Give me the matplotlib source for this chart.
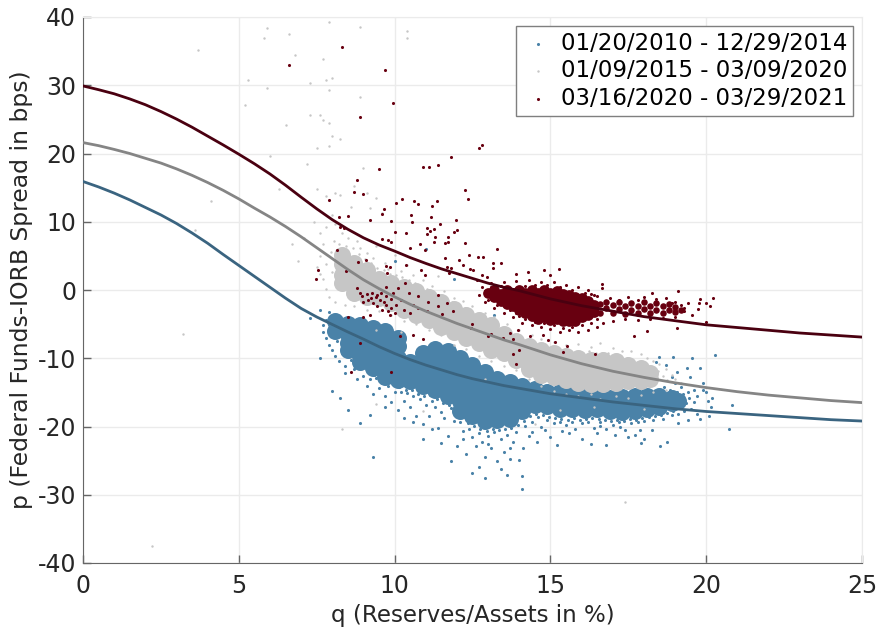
import numpy as np
import matplotlib
matplotlib.use('Agg')
import matplotlib.pyplot as plt

plt.rcParams['axes.unicode_minus'] = False

# curves, half steps where they bend and whole steps after q = 14
curve_q = [0, 0.5, 1, 1.5, 2, 2.5, 3, 3.5, 4, 4.5, 5, 5.5, 6, 6.5, 7, 7.5, 8, 8.5, 9, 9.5, 10, 10.5, 11, 11.5, 12,
           12.5, 13, 13.5, 14, 15, 16, 17, 18, 19, 20, 21, 22, 23, 24, 25]
curve_blue = [15.9, 15.1, 14.2, 13.2, 12.1, 11.0, 9.75, 8.35, 6.85, 5.2, 3.6, 2.0, 0.4, -1.2, -2.7, -3.95, -5.05, -6.15, -7.2, -8.3,
              -9.3, -10.2, -11.0, -11.7, -12.4, -13.0, -13.5, -14.0, -14.4, -15.2, -15.8, -16.4, -16.9, -17.4, -17.8, -18.1,
              -18.4, -18.7, -19.0, -19.2]
curve_gray = [21.6, 21.15, 20.6, 20.0, 19.3, 18.6, 17.75, 16.8, 15.75, 14.6, 13.35, 12.0, 10.7, 9.3, 7.8, 6.2, 4.6, 3.0, 1.5, 0.2,
              -1.0, -2.1, -3.1, -4.0, -4.9, -5.7, -6.5, -7.3, -8.0, -9.5, -10.8, -11.9, -12.8, -13.6, -14.3, -14.9,
              -15.4, -15.8, -16.2, -16.5]
curve_red = [29.9, 29.35, 28.75, 28.0, 27.15, 26.15, 25.05, 23.85, 22.55, 21.25, 19.9, 18.5, 17.0, 15.35, 13.6, 11.9, 10.3, 8.9, 7.65, 6.6,
             5.7, 4.75, 3.9, 3.1, 2.4, 1.7, 1.0, 0.4, -0.1, -1.3, -2.3, -3.1, -3.9, -4.5, -5.1, -5.5, -5.9, -6.3, -6.6, -6.9]

# the dense parts of the clouds, read as (q, p) and drawn with a fat marker
blue_core = [(8.1, -4.6), (8.1, -6.0), (8.5, -5.0), (8.5, -6.5), (8.5, -7.8), (8.5, -8.8),
             (8.9, -5.2), (8.9, -6.8), (8.9, -8.4), (8.9, -9.6), (8.9, -10.6),
             (9.3, -5.5), (9.3, -7.0), (9.3, -8.6), (9.3, -10.0), (9.3, -11.4),
             (9.7, -6.0), (9.7, -7.6), (9.7, -9.2), (9.7, -10.7), (9.7, -12.0), (9.7, -12.8),
             (10.1, -7.0), (10.1, -8.2), (10.1, -10.0), (10.1, -11.5), (10.1, -13.2),
             (10.5, -10.6), (10.5, -11.8), (10.5, -13.3),
             (10.9, -9.2), (10.9, -10.4), (10.9, -12.0), (10.9, -13.3), (10.9, -14.0),
             (11.3, -8.6), (11.3, -10.2), (11.3, -11.8), (11.3, -13.4), (11.3, -14.6),
             (11.7, -9.0), (11.7, -10.6), (11.7, -12.2), (11.7, -13.8), (11.7, -15.6),
             (12.1, -10.0), (12.1, -11.6), (12.1, -13.2), (12.1, -14.8), (12.1, -16.2), (12.1, -17.8),
             (12.5, -11.0), (12.5, -12.6), (12.5, -14.2), (12.5, -15.8), (12.5, -17.2), (12.5, -18.4),
             (12.9, -12.0), (12.9, -13.6), (12.9, -15.2), (12.9, -16.8), (12.9, -18.2), (12.9, -19.2),
             (13.3, -13.0), (13.3, -14.6), (13.3, -16.2), (13.3, -17.8), (13.3, -19.0),
             (13.7, -13.5), (13.7, -15.0), (13.7, -16.6), (13.7, -18.0), (13.7, -18.9),
             (14.1, -14.0), (14.1, -15.4), (14.1, -16.8), (14.1, -17.8),
             (14.5, -14.5), (14.5, -15.8), (14.5, -16.8),
             (14.9, -15.0), (14.9, -16.2), (14.9, -17.0),
             (15.3, -15.0), (15.3, -16.2), (15.3, -17.4),
             (15.7, -15.3), (15.7, -16.5), (15.7, -17.4),
             (16.1, -15.5), (16.1, -16.7), (16.1, -17.6),
             (16.5, -15.5), (16.5, -16.7), (16.5, -17.5),
             (16.9, -15.8), (16.9, -16.9), (16.9, -17.8),
             (17.3, -15.7), (17.3, -16.9), (17.3, -17.9),
             (17.7, -15.6), (17.7, -16.8), (17.7, -17.7),
             (18.1, -15.5), (18.1, -16.7), (18.1, -17.5),
             (18.5, -15.5), (18.5, -16.5), (18.5, -17.2),
             (18.9, -15.8), (18.9, -16.6), (19.1, -16.2)]

gray_core = [(8.3, 5.2), (8.3, 3.8), (8.3, 2.2), (8.3, 1.0),
             (8.7, 4.0), (8.7, 2.4), (8.7, 0.8), (8.7, -0.4),
             (9.1, 3.0), (9.1, 1.5), (9.1, 0.0), (9.1, -1.0),
             (9.5, 1.6), (9.5, 0.2), (9.5, -1.2),
             (9.9, 1.0), (9.9, -0.4), (9.9, -1.9),
             (10.3, 0.5), (10.3, -0.8), (10.3, -2.2), (10.3, -3.0),
             (10.7, -0.2), (10.7, -1.5), (10.7, -3.0), (10.7, -3.6),
             (11.1, -1.0), (11.1, -2.3), (11.1, -3.8), (11.1, -4.4),
             (11.5, -1.8), (11.5, -3.1), (11.5, -4.6), (11.5, -5.4),
             (11.9, -2.8), (11.9, -4.1), (11.9, -5.6), (11.9, -6.2),
             (12.3, -3.6), (12.3, -4.9), (12.3, -6.4), (12.3, -7.0),
             (12.7, -4.4), (12.7, -5.6), (12.7, -7.0), (12.7, -7.8),
             (13.1, -5.2), (13.1, -6.6), (13.1, -8.0), (13.1, -8.8),
             (13.5, -6.4), (13.5, -7.8), (13.5, -9.2),
             (13.9, -7.4), (13.9, -8.8), (13.9, -10.2),
             (14.3, -8.2), (14.3, -9.6), (14.3, -11.0), (14.3, -11.6),
             (14.7, -8.8), (14.7, -10.2), (14.7, -11.6), (14.7, -12.4),
             (15.1, -9.2), (15.1, -10.6), (15.1, -12.0), (15.1, -12.8),
             (15.5, -9.7), (15.5, -11.0), (15.5, -12.4), (15.5, -13.2),
             (15.9, -10.0), (15.9, -11.4), (15.9, -12.8), (15.9, -13.6),
             (16.3, -10.2), (16.3, -11.6), (16.3, -13.0), (16.3, -13.7),
             (16.7, -10.2), (16.7, -11.6), (16.7, -13.0), (16.7, -13.7),
             (17.1, -10.4), (17.1, -11.8), (17.1, -13.2), (17.1, -13.6),
             (17.5, -11.0), (17.5, -12.2), (17.5, -13.4),
             (17.9, -11.4), (17.9, -12.6), (17.9, -13.4),
             (18.2, -12.2), (18.2, -13.1)]

red_core = [(13.0, -0.4), (13.2, 0.0), (13.2, -1.0), (13.4, -0.6), (13.4, -1.6),
            (13.6, 0.0), (13.6, -1.0), (13.6, -2.0), (13.8, -0.5), (13.8, -1.5), (13.8, -2.4),
            (14.0, 0.0), (14.0, -1.0), (14.0, -2.0), (14.0, -3.0),
            (14.2, -0.5), (14.2, -1.5), (14.2, -2.5), (14.2, -3.3),
            (14.4, 0.0), (14.4, -1.0), (14.4, -2.0), (14.4, -3.0), (14.4, -3.8),
            (14.6, -0.4), (14.6, -1.4), (14.6, -2.4), (14.6, -3.4), (14.6, -4.2),
            (14.8, 0.0), (14.8, -1.0), (14.8, -2.0), (14.8, -3.0), (14.8, -4.0),
            (15.0, -0.4), (15.0, -1.4), (15.0, -2.4), (15.0, -3.4), (15.0, -4.4),
            (15.2, -0.2), (15.2, -1.2), (15.2, -2.2), (15.2, -3.2), (15.2, -4.2),
            (15.4, -0.6), (15.4, -1.6), (15.4, -2.6), (15.4, -3.6), (15.4, -4.6),
            (15.6, -0.8), (15.6, -1.8), (15.6, -2.8), (15.6, -3.8), (15.6, -4.6),
            (15.8, -1.0), (15.8, -2.0), (15.8, -3.0), (15.8, -4.0), (15.8, -4.6),
            (16.0, -1.2), (16.0, -2.2), (16.0, -3.2), (16.0, -4.0),
            (16.2, -1.6), (16.2, -2.6), (16.2, -3.6), (16.4, -2.2), (16.4, -3.2)]

# the thick part of the red tail to the right of the core
red_tail = [(16.6, -2.0), (16.6, -3.4), (16.8, -2.7), (16.8, -1.8), (17.0, -3.3), (17.0, -2.2), (17.2, -2.8), (17.2, -1.7),
            (17.4, -3.5), (17.4, -2.4), (17.6, -2.9), (17.6, -1.9), (17.8, -3.4), (17.8, -2.3), (18.0, -2.8), (18.0, -1.8),
            (18.2, -3.3), (18.2, -2.3), (18.4, -2.9), (18.4, -1.9), (18.6, -3.3), (18.6, -2.4), (18.8, -2.9), (18.8, -2.0),
            (19.0, -3.2), (19.0, -2.5), (19.2, -2.9)]

# single points on the rim of the clouds and the outliers
blue_points = [(7.3, -4.1), (7.6, -10.0), (8.0, -14.8), (8.25, -15.8), (8.5, -17.6), (9.2, -18.3),
               (8.9, -19.5), (9.3, -24.5), (10.9, -21.8), (11.8, -25.0), (12.5, -26.8), (12.9, -27.5),
               (14.1, -29.2), (14.1, -27.3), (13.6, -27.1), (12.7, -25.9), (13.4, -26.2),
               (19.55, -9.9), (20.28, -9.5), (18.94, -9.75), (18.5, -9.75), (19.8, -11.45), (19.37, -11.45),
               (19.48, -12.7), (19.05, -11.95), (19.9, -13.65), (20.2, -15.85), (20.06, -16.3), (20.17, -17.2),
               (20.83, -16.8), (20.73, -20.3), (18.73, -22.3), (18.51, -22.9), (17.71, -21.2), (17.07, -21.2),
               (16.8, -22.7), (16.48, -20.9), (16.0, -21.8), (15.36, -20.7), (15.2, -22.7), (14.56, -22.3),
               (14.13, -23.2), (13.8, -22.2), (14.82, -20.5), (17.87, -20.5), (18.25, -20.5), (17.23, -20.0),
               (7.6, -3.0), (7.7, -5.2), (7.7, -6.1), (7.8, -4.4), (7.8, -7.0), (7.9, -8.1), (7.9, -3.2),
               (8.0, -8.8), (8.1, -9.6), (8.2, -10.4), (8.3, -9.2), (8.4, -11.1), (8.4, -12.2), (8.6, -10.3),
               (8.7, -11.6), (8.8, -13.0), (8.9, -11.4), (9.0, -12.6), (9.1, -14.1), (9.2, -13.0), (9.3, -15.2),
               (9.4, -12.9), (9.5, -14.4), (9.6, -13.6), (9.7, -15.6), (9.8, -14.0), (9.9, -16.4), (10.0, -14.9),
               (10.1, -17.6), (10.2, -15.0), (10.3, -16.2), (10.4, -15.1), (10.5, -17.2), (10.6, -15.6),
               (10.7, -18.5), (10.8, -16.0), (10.9, -19.6), (11.0, -16.8), (11.1, -18.4), (11.2, -16.2),
               (11.3, -17.1), (11.4, -20.2), (11.5, -17.9), (11.6, -18.7), (11.7, -21.4), (11.8, -17.3),
               (11.9, -19.2), (12.0, -22.8), (12.1, -19.3), (12.2, -20.6), (12.3, -24.0), (12.4, -20.4),
               (12.5, -21.5), (12.6, -22.8), (12.7, -20.9), (12.8, -22.3), (12.9, -24.4), (13.0, -21.4),
               (13.1, -23.2), (13.2, -20.8), (13.3, -25.0), (13.4, -21.8), (13.5, -23.7), (13.6, -21.2),
               (13.7, -24.7), (13.9, -20.8), (14.0, -24.9), (14.2, -19.9), (14.3, -21.4), (14.4, -19.3),
               (14.6, -18.6), (14.7, -20.0), (14.9, -19.0), (15.0, -21.5), (15.1, -19.5), (15.3, -19.4),
               (15.5, -19.8), (15.7, -19.3), (15.8, -20.4), (16.0, -19.5), (16.2, -19.4), (16.4, -20.2),
               (16.6, -19.3), (16.8, -20.3), (17.0, -19.8), (17.2, -19.4), (17.4, -20.5), (17.6, -19.5),
               (17.8, -19.4), (18.0, -19.2), (18.3, -19.0), (18.6, -18.9), (18.9, -18.3), (19.1, -18.1),
               (19.3, -17.8), (19.5, -17.4), (19.6, -16.4), (19.7, -15.6), (19.4, -15.0), (19.6, -14.6),
               (19.2, -14.2), (19.0, -13.6), (18.9, -12.8), (18.7, -11.0), (18.4, -10.6), (19.7, -18.2),
               (15.3, -9.9), (10.0, 4.2), (11.0, 6.0), (11.9, 1.6), (10.1, 1.2), (12.0, -2.4), (13.2, -3.6),
               (8.0, -5.6), (8.15, -7.4), (8.35, -8.4), (8.55, -9.4), (8.75, -10.6), (8.95, -11.0), (9.15, -12.0),
               (9.35, -12.4), (9.55, -12.8), (9.75, -13.3), (9.95, -13.8), (10.15, -14.2), (10.35, -14.6), (10.55, -14.7),
               (10.75, -15.2), (10.95, -15.5), (11.15, -15.4), (11.35, -16.0), (11.55, -16.6), (11.75, -16.8), (11.95, -18.0),
               (12.15, -18.6), (12.35, -19.5), (12.55, -19.9), (12.75, -20.3), (12.95, -20.6), (13.15, -20.4), (13.35, -20.5),
               (13.55, -20.4), (13.75, -20.2), (13.95, -19.8), (14.15, -19.2), (14.35, -18.5), (14.55, -18.2), (14.75, -18.3),
               (14.95, -18.6), (15.15, -18.8), (15.35, -18.9), (15.55, -19.0), (15.75, -18.8), (15.95, -19.0), (16.15, -18.9),
               (16.35, -18.8), (16.55, -18.9), (16.75, -19.0), (16.95, -19.2), (17.15, -19.1), (17.35, -19.2), (17.55, -18.9),
               (17.75, -19.0), (17.95, -18.8), (18.15, -18.6), (18.35, -18.5), (18.55, -18.3), (18.75, -18.0), (18.95, -17.8),
               (19.15, -17.3), (19.35, -16.6), (19.45, -15.8), (19.25, -15.3), (19.05, -14.9), (18.85, -14.6), (18.65, -14.2),
               (10.3, -18.8), (10.6, -19.4), (11.2, -20.4), (11.5, -22.4), (12.2, -21.9), (13.0, -22.6), (13.7, -23.2),
               (14.4, -20.8), (15.6, -21.0), (16.3, -22.6), (16.6, -19.9), (17.5, -21.6), (18.0, -21.8), (19.1, -19.5),
               (19.4, -19.0), (19.8, -18.9), (20.0, -15.0), (19.9, -14.6), (20.1, -18.4), (17.9, -22.4), (9.7, -17.2)]

gray_points = [(3.7, 35.2), (5.9, 38.4), (5.8, 36.9), (6.6, 37.5), (7.9, 39.3), (8.9, 38.5), (6.8, 34.4),
               (7.7, 33.8), (5.3, 30.8), (7.3, 30.3), (7.8, 30.8), (8.0, 31.0), (5.9, 29.6), (7.9, 29.3),
               (8.9, 28.3), (5.2, 27.1), (7.3, 25.6), (7.6, 25.6), (7.7, 24.9), (7.9, 24.5), (6.5, 24.2),
               (8.0, 22.6), (8.25, 22.1), (7.9, 21.1), (7.5, 20.8), (6.0, 19.6), (7.2, 18.5), (9.0, 17.9),
               (8.7, 15.2), (6.3, 14.8), (7.5, 14.8), (8.1, 14.2), (8.25, 13.9), (7.8, 13.8), (9.1, 14.2),
               (9.4, 13.5), (4.1, 13.0), (9.2, 12.0), (10.4, 38.0), (10.4, 36.9), (2.2, -37.5), (3.2, -6.5),
               (8.3, -20.4), (9.4, -16.7), (10.9, -17.7), (17.4, -31.0), (3.6, 8.8), (6.7, 6.7), (6.9, 4.3),
               (9.6, 11.3), (8.6, 12.2), (8.0, 11.0), (7.4, 10.0), (7.6, 8.4), (7.1, 7.6), (7.7, 6.8),
               (7.8, 9.2), (8.1, 9.6), (8.3, 8.3), (8.5, 7.6), (8.8, 7.2), (8.9, 6.1), (9.1, 5.4), (9.3, 4.7),
               (9.4, 6.5), (9.7, 4.0), (9.8, 3.1), (10.0, 5.2), (10.2, 2.8), (10.4, 3.6), (10.6, 2.2),
               (10.9, 1.4), (11.2, 0.6), (11.4, 2.0), (11.6, -0.2), (11.9, -1.1), (12.2, -1.6), (12.5, -2.4),
               (12.9, -3.3), (13.2, -4.0), (13.6, -5.0), (14.0, -5.8), (14.4, -6.6), (14.7, -7.2), (15.1, -7.6),
               (15.5, -8.0), (15.9, -7.9), (16.3, -8.3), (16.6, -7.8), (17.0, -8.5), (17.3, -8.9), (17.6, -9.0),
               (17.9, -9.4), (18.1, -9.9), (18.3, -10.4), (18.5, -10.8), (18.7, -11.6), (18.9, -12.4), (19.0, -13.0),
               (19.2, -13.6), (18.7, -14.6), (18.3, -15.0), (17.9, -15.4), (17.5, -15.8), (17.1, -15.6), (16.6, -16.0),
               (7.5, 3.3), (7.6, 5.0), (7.7, 1.6), (7.8, 0.2), (7.9, -1.0), (8.0, 2.6), (8.1, -1.8), (8.4, -2.2),
               (8.7, -2.3), (9.1, -2.9), (9.5, -3.1), (9.9, -3.6), (10.3, -4.6), (10.7, -5.0), (11.1, -5.8),
               (11.5, -6.6), (11.9, -8.0), (12.3, -8.7), (12.7, -9.6), (13.1, -10.4), (13.5, -11.1), (13.9, -11.7),
               (14.3, -13.1), (14.7, -14.0), (15.1, -14.8), (15.5, -15.3), (15.9, -15.6), (16.3, -15.2),
               (10.2, -6.2), (9.4, -5.9), (12.9, -13.0), (15.3, -17.6), (16.4, -17.2), (18.0, -17.4), (14.5, -19.7),
               (7.6, 2.4), (7.8, 3.8), (7.95, 5.6), (8.05, 7.2), (8.2, 6.8), (8.45, 6.5), (8.65, 6.2), (8.85, 5.3),
               (9.05, 4.6), (9.25, 3.9), (9.45, 3.2), (9.65, 2.9), (9.85, 2.4), (10.05, 2.2), (10.25, 1.9), (10.45, 1.4),
               (10.65, 1.0), (10.85, 0.4), (11.05, 0.1), (11.25, -0.4), (11.45, -0.8), (11.65, -1.3), (11.85, -1.8),
               (12.05, -2.3), (12.25, -2.7), (12.45, -3.1), (12.65, -3.6), (12.85, -4.2), (13.05, -4.6), (13.25, -5.0),
               (13.45, -5.6), (13.65, -6.0), (13.85, -6.6), (14.05, -7.0), (14.25, -7.4), (14.45, -7.9), (14.65, -8.2),
               (14.85, -8.5), (15.05, -8.3), (15.25, -8.8), (15.45, -8.9), (15.65, -9.0), (15.85, -9.1), (16.05, -9.2),
               (16.25, -9.0), (16.45, -9.2), (16.65, -9.3), (16.85, -9.3), (17.05, -9.5), (17.25, -9.7), (17.45, -10.0),
               (17.65, -10.3), (17.85, -10.6), (18.05, -11.0), (18.25, -11.4), (18.45, -11.9), (18.6, -12.6), (18.75, -13.2)]

red_points = [(8.3, 35.6), (6.6, 33.0), (8.9, 25.3), (9.5, 17.7), (8.8, 16.1), (8.7, 14.3), (9.0, 14.1), (7.9, 13.2),
              (9.7, 32.2), (9.95, 27.4), (12.8, 21.2), (12.7, 20.8), (11.8, 19.5), (10.9, 18.0), (11.1, 18.0), (11.4, 18.3),
              (10.25, 13.4), (10.04, 12.8), (10.63, 13.1), (10.75, 12.6), (11.19, 12.3), (11.37, 13.0), (12.26, 14.6),
              (12.37, 13.3), (9.67, 11.8), (9.6, 11.2), (10.52, 10.95), (11.18, 10.75), (8.22, 10.75), (8.5, 10.85),
              (9.21, 10.2), (9.88, 10.1), (10.56, 9.9), (11.97, 10.3), (11.46, 9.6), (8.26, 9.2), (8.37, 9.1),
              (10.0, 8.5), (10.37, 8.4), (11.04, 9.1), (11.13, 8.7), (11.27, 8.95), (11.05, 8.2), (11.29, 7.8),
              (11.26, 7.1), (11.9, 8.5), (11.99, 8.8), (11.72, 7.7), (11.61, 6.85), (11.7, 7.1), (12.27, 6.85),
              (13.28, 6.0), (9.6, 7.4), (9.8, 7.3), (9.87, 7.1), (10.83, 6.75), (10.49, 6.1), (10.98, 5.9),
              (12.39, 5.2), (12.67, 4.9), (12.84, 4.9), (11.61, 4.75), (8.16, 5.9), (9.08, 4.4), (8.84, 4.05),
              (8.43, 2.8), (7.53, 3.0), (7.48, 1.6), (9.72, 3.5), (9.85, 3.3), (9.77, 2.5), (10.38, 3.7),
              (10.85, 2.95), (10.99, 2.2), (11.67, 3.3), (11.81, 3.2), (11.75, 2.5), (12.06, 4.4), (12.2, 3.7),
              (12.42, 3.05), (12.52, 3.0), (13.16, 3.9), (13.43, 3.9), (13.16, 3.2), (12.63, 1.5), (12.79, 2.2),
              (12.95, 1.9), (8.89, -0.5), (8.78, 0.3), (9.28, -0.5), (9.42, -0.7), (8.94, -0.95), (9.53, -1.45),
              (9.74, -0.95), (9.9, -1.3), (10.12, 0.3), (10.33, 1.0), (9.72, 0.4), (9.0, -1.7), (9.74, -2.2),
              (9.9, -2.7), (9.23, -1.2), (9.4, -1.0), (9.15, -1.45), (10.06, -2.2), (10.76, -0.95), (10.6, -2.2),
              (11.08, -1.7), (11.4, -2.3), (11.4, -0.7), (11.67, -1.9), (11.88, -3.15), (11.53, -3.5), (11.03, -3.15),
              (10.76, -2.7), (8.51, -4.0), (9.0, -4.0), (9.21, -3.6), (9.85, -3.6), (10.17, -6.8), (10.6, -6.55),
              (10.92, -7.2), (12.47, -5.0), (12.44, -5.5), (13.0, -6.8), (13.1, -6.4), (13.7, -6.3), (13.97, -5.8),
              (13.88, 2.35), (14.27, 2.7), (14.79, 2.9), (14.99, 2.25), (15.26, 3.1), (16.64, 0.9), (16.64, 0.25),
              (19.1, -0.2), (18.27, -0.5), (20.23, -1.1), (19.8, -1.3), (19.78, -1.85), (20.0, -1.85), (20.12, -2.4),
              (19.74, -2.8), (19.42, -1.9), (19.53, -3.65), (20.0, -4.7), (19.07, -5.6), (18.09, -6.0), (17.69, -6.8),
              (16.43, -9.4), (15.41, -9.15), (15.52, -8.2), (13.79, -9.4), (14.0, -8.8), (13.88, -10.8), (13.47, -7.1),
              (14.34, -6.8), (14.77, -6.6), (14.93, -7.3), (15.14, -7.55), (13.81, -7.2),
              (16.5, -0.9), (16.9, -1.2), (17.2, -1.5), (17.5, -1.0), (17.8, -1.4), (18.0, -1.0), (18.4, -1.3), (18.7, -1.1),
              (19.0, -1.7), (19.2, -2.2), (19.3, -3.1), (19.0, -3.9), (18.6, -4.1), (18.2, -4.3), (17.8, -4.4), (17.4, -4.2),
              (17.0, -4.6), (16.7, -4.9), (16.5, -5.4), (16.2, -5.8), (15.9, -6.1), (15.6, -5.9), (15.3, -6.2), (15.0, -5.7),
              (14.7, -5.4), (14.4, -5.2), (14.1, -4.8), (13.8, -3.9), (13.5, -3.4), (13.2, -2.6), (12.9, -1.8), (12.7, -0.8),
              (12.8, 0.4), (13.1, 1.0), (13.5, 1.2), (13.9, 1.3), (14.3, 1.4), (14.7, 1.2), (15.1, 1.1), (15.5, 0.8), (15.9, 0.4),
              (16.2, 0.0), (16.4, -0.8), (19.3, -2.6), (18.9, -1.9), (9.9, -12.0), (8.9, -7.7), (8.6, -12.0),
              (13.0, -1.4), (12.9, -0.2), (13.1, 0.5), (13.3, -2.2), (13.4, 0.6), (13.7, -3.0), (14.0, -3.8), (14.2, 0.6),
              (14.5, 0.8), (14.9, 0.7), (15.3, 0.5), (15.7, 0.0), (16.1, -0.4), (16.3, -0.6), (16.5, -4.2), (16.3, -4.9),
              (16.0, -5.2), (15.7, -5.4), (15.4, -5.5), (15.1, -5.2), (14.8, -4.9), (14.5, -4.7), (14.2, -4.2), (13.9, -3.4),
              (9.1, -0.6), (9.3, -1.9), (9.45, -2.4), (9.55, -0.4), (9.6, -3.0), (9.65, -1.7), (9.8, -3.1), (9.95, -0.5),
              (10.0, -3.3), (10.2, -1.5), (10.3, -2.9), (10.45, -0.4), (10.5, -3.4)]

blue_arr = np.array(blue_points)
gray_arr = np.array(gray_points)
red_arr = np.array(red_points)
blue_fat = np.array(blue_core)
gray_fat = np.array(gray_core)
red_fat = np.array(red_core)
red_mid = np.array(red_tail)

fig = plt.figure(figsize=(8.78, 6.3), dpi=100)
ax = fig.add_axes([83 / 878, 1 - 563 / 630, 779 / 878, 546 / 630])

c_blue = '#4a82a8'
c_gray = '#c6c6c6'
c_red = '#680010'

ax.scatter(blue_fat[:, 0], blue_fat[:, 1], s=150, color=c_blue, linewidths=0, zorder=2)
ax.scatter(blue_arr[:, 0], blue_arr[:, 1], s=5, color=c_blue, linewidths=0, zorder=2,
           label='01/20/2010 - 12/29/2014')
ax.scatter(gray_fat[:, 0], gray_fat[:, 1], s=150, color=c_gray, linewidths=0, zorder=3)
ax.scatter(gray_arr[:, 0], gray_arr[:, 1], s=3, color=c_gray, linewidths=0, zorder=3,
           label='01/09/2015 - 03/09/2020')
ax.scatter(red_fat[:, 0], red_fat[:, 1], s=60, color=c_red, linewidths=0, zorder=4)
ax.scatter(red_mid[:, 0], red_mid[:, 1], s=22, color=c_red, linewidths=0, zorder=4)
ax.scatter(red_arr[:, 0], red_arr[:, 1], s=5, color=c_red, linewidths=0, zorder=4,
           label='03/16/2020 - 03/29/2021')

ax.plot(curve_q, curve_blue, color='#3a6480', lw=2, zorder=5)
ax.plot(curve_q, curve_gray, color='#858585', lw=2, zorder=5)
ax.plot(curve_q, curve_red, color='#4a0010', lw=2, zorder=5)

ax.set_xlim(0, 25)
ax.set_ylim(-40, 40)
ax.set_xticks([0, 5, 10, 15, 20, 25])
ax.set_yticks([-40, -30, -20, -10, 0, 10, 20, 30, 40])
ax.grid(color='#ebebeb', lw=1)
ax.set_axisbelow(True)
ax.spines['top'].set_color('#ebebeb')
ax.spines['right'].set_color('#ebebeb')
ax.spines['left'].set_color('#666666')
ax.spines['bottom'].set_color('#666666')
ax.tick_params(direction='in', length=6, width=1, color='#666666', labelsize=17, labelcolor='#262626')
ax.tick_params(axis='x', pad=8)
ax.tick_params(axis='y', pad=5)
ax.set_xlabel('q (Reserves/Assets in %)', fontsize=16.6, color='#262626', labelpad=4)
ax.set_ylabel('p (Federal Funds-IORB Spread in bps)', fontsize=16.9, color='#262626', labelpad=3)

leg = ax.legend(loc='upper right', bbox_to_anchor=(853 / 878, 1 - 26 / 630), bbox_transform=fig.transFigure,
                fontsize=16.5, fancybox=False, framealpha=1, edgecolor='#7f7f7f', borderaxespad=0,
                labelspacing=0.2, handlelength=1.4, handletextpad=0.3, borderpad=0.25, scatterpoints=1)
leg.set_zorder(10)
leg.get_frame().set_linewidth(1)

fig.savefig('out.png', dpi=100)
